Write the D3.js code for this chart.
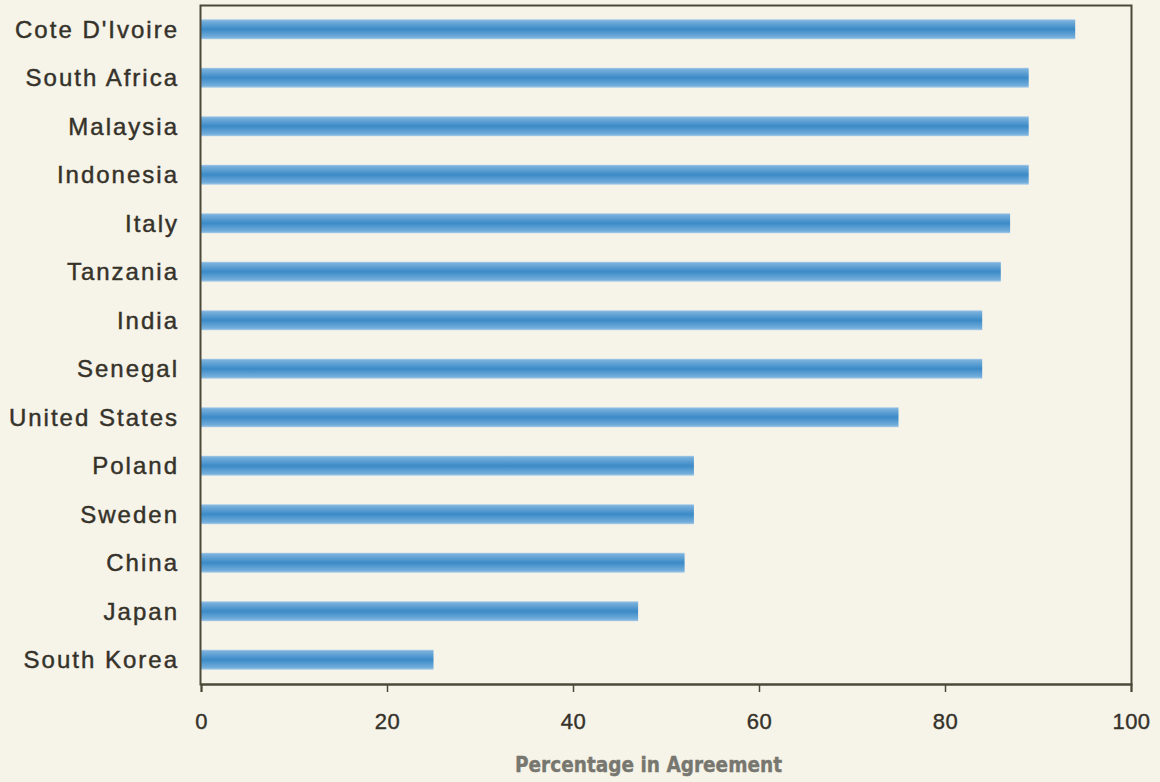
<!DOCTYPE html>
<html>
<head>
<meta charset="utf-8">
<script src="https://cdn.jsdelivr.net/npm/d3@7"></script>
<style>
  html, body { margin: 0; padding: 0; background: #f6f3e8; }
  svg { display: block; }
</style>
</head>
<body>
<svg id="chart" width="1160" height="782"></svg>
<script>
const categories = ["Cote D'Ivoire", "South Africa", "Malaysia", "Indonesia", "Italy", "Tanzania", "India", "Senegal", "United States", "Poland", "Sweden", "China", "Japan", "South Korea"];
const values = [94, 89, 89, 89, 87, 86, 84, 84, 75, 53, 53, 52, 47, 25];
const xTicks = [0, 20, 40, 60, 80, 100];
const xTitle = "Percentage in Agreement";

const svg = d3.select("#chart");
const W = 1160, H = 782;
const m = { left: 201, right: 1131, top: 5, bottom: 684 };

svg.append("rect").attr("width", W).attr("height", H).attr("fill", "#f6f3e8");

const defs = svg.append("defs");
const grad = defs.append("linearGradient").attr("id", "barGrad")
  .attr("x1", 0).attr("y1", 0).attr("x2", 0).attr("y2", 1);
[["0%", "#a9cce8"], ["8%", "#78b0dc"], ["50%", "#3b8ac7"], ["90%", "#74aedb"], ["100%", "#aacde8"]]
  .forEach(([o, c]) => grad.append("stop").attr("offset", o).attr("stop-color", c));

const x = d3.scaleLinear().domain([0, 100]).range([m.left, m.right]);
const y = d3.scaleBand().domain(categories).range([m.top, m.bottom]).paddingInner(0.59).paddingOuter(0.295);

// bars
svg.append("g").selectAll("rect").data(categories).join("rect")
  .attr("x", x(0))
  .attr("y", d => y(d))
  .attr("width", (d, i) => x(values[i]) - x(0))
  .attr("height", y.bandwidth())
  .attr("fill", "url(#barGrad)");

// frame
const frameColor = "#4d4939";
const textColor = "#35322a";
svg.append("rect")
  .attr("x", m.left - 0.5).attr("y", m.top + 0.5)
  .attr("width", m.right + 1 - m.left).attr("height", m.bottom - m.top)
  .attr("fill", "none").attr("stroke", frameColor).attr("stroke-width", 2);

// x axis
const xAxis = svg.append("g").attr("transform", `translate(0,${m.bottom})`)
  .call(d3.axisBottom(x).tickValues(xTicks).tickSize(8).tickPadding(21).tickFormat(d3.format("d")));
xAxis.select(".domain").attr("stroke", frameColor).attr("stroke-width", 2);
xAxis.selectAll(".tick line").attr("stroke", frameColor).attr("stroke-width", 1.5);
xAxis.selectAll(".tick text")
  .attr("fill", textColor)
  .attr("stroke", textColor).attr("stroke-width", 0.4)
  .attr("font-family", "'Liberation Sans', Arial, sans-serif")
  .attr("font-size", 22)
  .attr("letter-spacing", 0.5);

// y labels
svg.append("g").selectAll("text").data(categories).join("text")
  .attr("x", m.left - 22)
  .attr("y", d => y(d) + y.bandwidth() / 2)
  .attr("dy", "0.36em")
  .attr("text-anchor", "end")
  .attr("fill", textColor)
  .attr("stroke", textColor).attr("stroke-width", 0.45)
  .attr("font-family", "'Liberation Sans', Arial, sans-serif")
  .attr("font-size", 24)
  .attr("letter-spacing", 2)
  .text(d => d);

// x title
svg.append("text")
  .attr("x", 515)
  .attr("y", 772)
  .attr("text-anchor", "start")
  .attr("fill", "#77776f")
  .attr("stroke", "#77776f").attr("stroke-width", 0.4)
  .attr("font-family", "'DejaVu Sans', sans-serif")
  .attr("font-weight", "bold")
  .attr("font-size", 22)
  .attr("textLength", 267)
  .attr("lengthAdjust", "spacingAndGlyphs")
  .text(xTitle);
</script>
</body>
</html>
